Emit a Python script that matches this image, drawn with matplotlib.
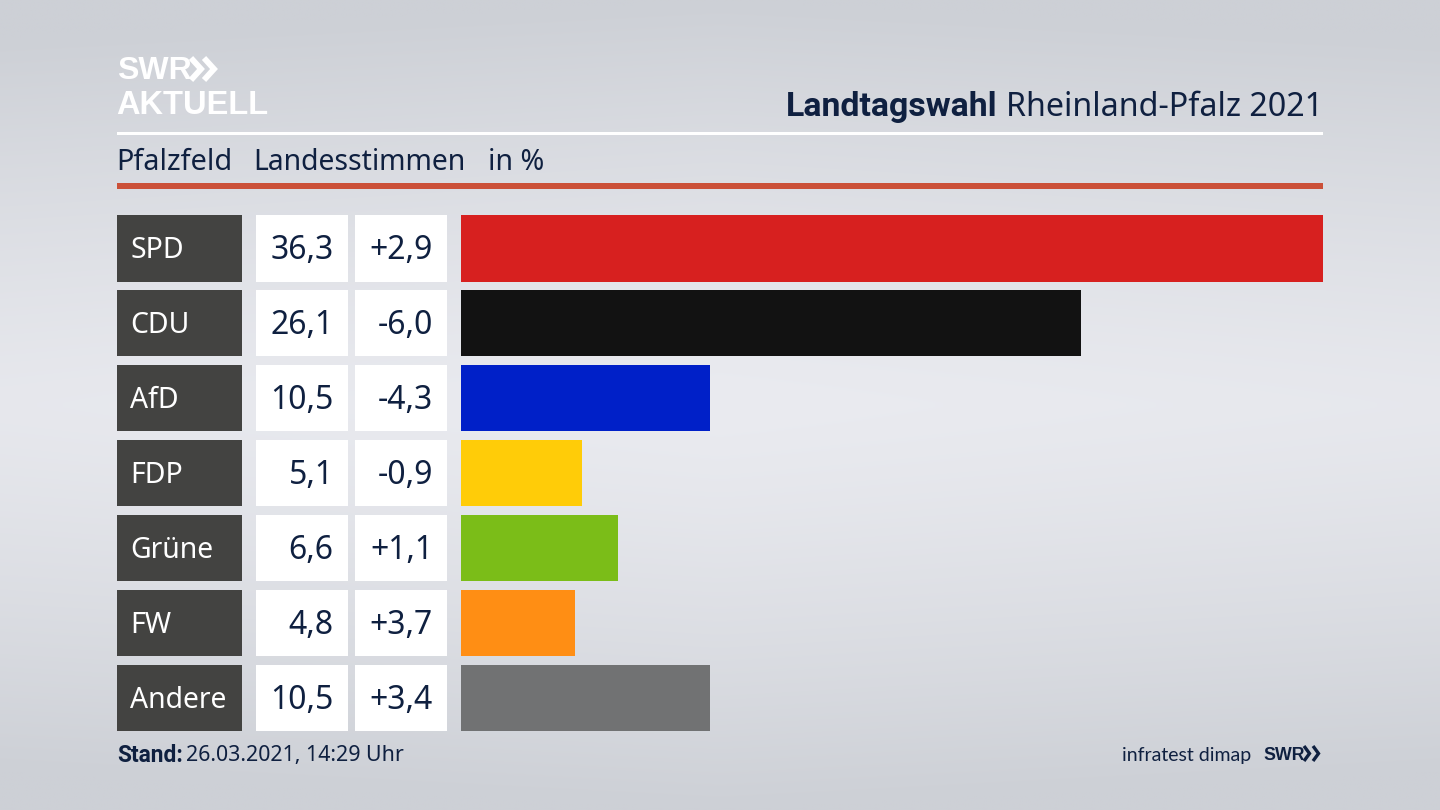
# -*- coding: utf-8 -*-
import numpy as np
import matplotlib.pyplot as plt

plt.rcParams['font.family'] = ['Noto Sans', 'DejaVu Sans']

parties = ['SPD', 'CDU', 'AfD', 'FDP', 'Grüne', 'FW', 'Andere']
share = [36.3, 26.1, 10.5, 5.1, 6.6, 4.8, 10.5]
share_labels = ['36,3', '26,1', '10,5', '5,1', '6,6', '4,8', '10,5']
diff_labels = ['+2,9', '-6,0', '-4,3', '-0,9', '+1,1', '+3,7', '+3,4']
bar_colors = ['#d7201f', '#121212', '#0020c8', '#ffcc08', '#7bbd18', '#ff8e14', '#717273']

navy = '#0f2040'
W, H = 1440, 810
row_top = 215
row_pitch = 74.97
row_h = 66.5

fig = plt.figure(figsize=(14.4, 8.1), dpi=100)

# page axes in pixel coordinates, y goes down
ax = fig.add_axes([0, 0, 1, 1])
ax.set_xlim(0, W)
ax.set_ylim(H, 0)
ax.axis('off')

# background, light band around the middle, darker towards the edges
yy, xx = np.mgrid[0:1:200j, 0:1:200j]
bg = 1 - np.clip(np.abs(yy - 0.5) * 2, 0, 1) ** 1.3
bg = bg - 0.12 * np.abs(xx - 0.5) * 2
top = np.array([205, 208, 214]) / 255
mid = np.array([234, 235, 240]) / 255
img = top + (mid - top) * np.clip(bg, 0, 1)[..., None]
ax.imshow(img, extent=(0, W, H, 0), aspect='auto', zorder=0, interpolation='bilinear')

# logo
ax.text(117, 71, 'SWR', color='white', fontsize=23, fontweight='bold', va='center', ha='left',
        family=['Liberation Sans'])
ax.text(116, 105, 'AKTUELL', color='white', fontsize=23.5, fontweight='bold', va='center', ha='left',
        family=['Liberation Sans'])
for x0 in (191, 204):
    ax.plot([x0, x0 + 10, x0], [58, 69, 80], color='white', lw=4.2, solid_capstyle='butt',
            solid_joinstyle='miter', zorder=3)

# header
ax.text(1323, 108, 'Rheinland-Pfalz 2021', color=navy, fontsize=23.2, ha='right', va='center')
ax.text(997, 107, 'Landtagswahl', color=navy, fontsize=24.4, fontweight='bold', ha='right', va='center',
        family=['Roboto'])
ax.add_patch(plt.Rectangle((117, 132), 1206, 3, color='white', lw=0, zorder=2))
ax.text(116, 162.5, 'Pfalzfeld', color=navy, fontsize=20.8, ha='left', va='center')
ax.text(253.5, 162.5, 'Landesstimmen', color=navy, fontsize=20.4, ha='left', va='center')
ax.text(488, 162.5, 'in %', color=navy, fontsize=20.6, ha='left', va='center')
ax.add_patch(plt.Rectangle((117, 183), 1206, 6, color='#cb5038', lw=0, zorder=2))

# table cells
for i, party in enumerate(parties):
    y = row_top + i * row_pitch
    ax.add_patch(plt.Rectangle((117, y), 124.5, row_h, color='#434341', lw=0, zorder=2))
    ax.add_patch(plt.Rectangle((255.5, y), 92.5, row_h, color='white', lw=0, zorder=2))
    ax.add_patch(plt.Rectangle((354.5, y), 92.5, row_h, color='white', lw=0, zorder=2))
    ax.text(130.5, y + row_h / 2 + 2.5, party, color='white', fontsize=20.4, ha='left', va='center', zorder=3)
    ax.text(333.5, y + row_h / 2 + 2.5, share_labels[i], color=navy, fontsize=23, ha='right', va='center', zorder=3)
    ax.text(433, y + row_h / 2 + 2.5, diff_labels[i], color=navy, fontsize=23, ha='right', va='center', zorder=3)

# footer
ax.text(117, 756, 'Stand:', color=navy, fontsize=16.4, fontweight='bold', ha='left', va='center',
        family=['Roboto'])
ax.text(186, 756, '26.03.2021, 14:29 Uhr', color=navy, fontsize=15.4, ha='left', va='center')
ax.text(1251, 755, 'infratest dimap', color=navy, fontsize=14, ha='right', va='center', family=['Lato'])
ax.text(1263, 755, 'SWR', color=navy, fontsize=12.8, fontweight='bold', ha='left', va='center',
        family=['Liberation Sans'])
for x0 in (1304, 1313):
    ax.plot([x0, x0 + 5.5, x0], [746, 753.5, 761], color=navy, lw=2.4, solid_capstyle='butt',
            solid_joinstyle='miter', zorder=3)

# bars, own axes over the right part of the table
bar_ax = fig.add_axes([461 / W, 1 - (row_top + 6 * row_pitch + row_h) / H,
                       862 / W, (6 * row_pitch + row_h) / H])
bar_ax.patch.set_alpha(0)
bar_ax.barh(np.arange(len(parties)), share, height=row_h / row_pitch, color=bar_colors)
bar_ax.set_xlim(0, max(share))
bar_ax.set_ylim(6 + row_h / row_pitch / 2, -row_h / row_pitch / 2)
bar_ax.axis('off')

fig.savefig('out.png', dpi=100)
